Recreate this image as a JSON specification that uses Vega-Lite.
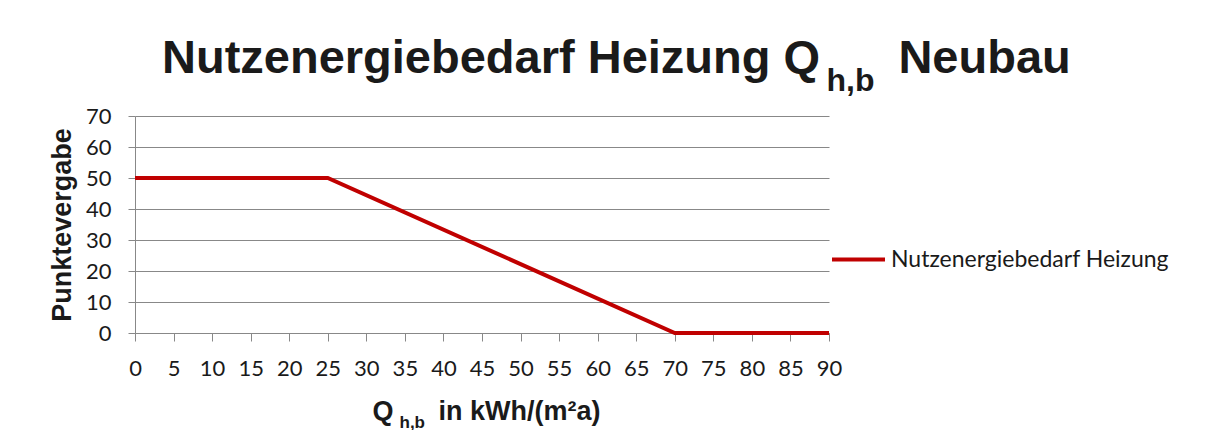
{
  "$schema": "https://vega.github.io/schema/vega-lite/v6.json",
  "width": 694,
  "height": 217,
  "autosize": "none",
  "padding": {"left": 135, "top": 116, "right": 380, "bottom": 97},
  "background": "white",
  "title": {
    "text": "Nutzenergiebedarf Heizung Q\u00a0\u00a0\u00a0\u00a0\u00a0\u00a0Neubau",
    "anchor": "start",
    "frame": "group",
    "dx": 27,
    "dy": 56,
    "font": "Liberation Sans",
    "fontSize": 47,
    "fontWeight": "bold",
    "color": "#1a1a1a",
    "baseline": "alphabetic",
    "offset": 0
  },
  "data": {
    "values": [
      {"q": 0, "punkte": 50, "serie": "Nutzenergiebedarf Heizung"},
      {"q": 25, "punkte": 50, "serie": "Nutzenergiebedarf Heizung"},
      {"q": 70, "punkte": 0, "serie": "Nutzenergiebedarf Heizung"},
      {"q": 90, "punkte": 0, "serie": "Nutzenergiebedarf Heizung"}
    ]
  },
  "layer": [
    {
      "mark": {"type": "line", "strokeWidth": 4, "clip": false, "strokeCap": "butt"},
      "encoding": {
        "x": {
          "field": "q",
          "type": "quantitative",
          "scale": {"domain": [0, 90], "nice": false},
          "axis": {
            "values": [0, 5, 10, 15, 20, 25, 30, 35, 40, 45, 50, 55, 60, 65, 70, 75, 80, 85, 90],
            "grid": false,
            "tickSize": 8,
            "labelPadding": 17,
            "labelFlush": false,
            "labelOverlap": false,
            "title": "Q\u00a0\u00a0\u00a0\u00a0\u00a0\u00a0in kWh/(m²a)",
            "titleX": 237,
            "titleY": 86,
            "titleAlign": "left",
            "titleBaseline": "alphabetic",
            "titleFontSize": 27
          }
        },
        "y": {
          "field": "punkte",
          "type": "quantitative",
          "scale": {"domain": [0, 70], "nice": false},
          "axis": {
            "values": [0, 10, 20, 30, 40, 50, 60, 70],
            "grid": true,
            "tickSize": 7,
            "labelPadding": 17,
            "labelFlush": false,
            "labelOverlap": false,
            "title": "Punktevergabe",
            "titleX": -64.5,
            "titleY": 108.5,
            "titleAngle": -90,
            "titleAlign": "center",
            "titleBaseline": "alphabetic",
            "titleFontSize": 27
          }
        },
        "color": {
          "field": "serie",
          "type": "nominal",
          "scale": {"range": ["#C00000"]},
          "legend": {
            "orient": "none",
            "legendX": 695,
            "legendY": 115,
            "title": null,
            "symbolType": "stroke",
            "symbolSize": 2809,
            "symbolStrokeWidth": 4,
            "labelFont": "Lato",
            "labelFontSize": 23,
            "labelColor": "#1a1a1a",
            "labelOffset": 4,
            "labelLimit": 500,
            "padding": 0
          }
        }
      }
    },
    {
      "mark": {"type": "point", "opacity": 0},
      "encoding": {
        "x": {
          "field": "q",
          "type": "quantitative",
          "axis": {
            "orient": "top",
            "labels": false,
            "ticks": false,
            "domain": false,
            "grid": false,
            "title": "h,b",
            "titleX": 691,
            "titleY": -26,
            "titleAlign": "left",
            "titleBaseline": "alphabetic",
            "titleFontSize": 32
          }
        }
      }
    },
    {
      "mark": {"type": "point", "opacity": 0},
      "encoding": {
        "x": {
          "field": "q",
          "type": "quantitative",
          "axis": {
            "orient": "bottom",
            "labels": false,
            "ticks": false,
            "domain": false,
            "grid": false,
            "title": "h,b",
            "titleX": 264,
            "titleY": 94,
            "titleAlign": "left",
            "titleBaseline": "alphabetic",
            "titleFontSize": 17
          }
        }
      }
    }
  ],
  "resolve": {"axis": {"x": "independent"}},
  "config": {
    "view": {"stroke": null},
    "axis": {
      "domainColor": "#888888",
      "domainWidth": 1,
      "tickColor": "#888888",
      "tickWidth": 1,
      "gridColor": "#888888",
      "gridWidth": 1,
      "labelFont": "Lato",
      "labelFontSize": 22,
      "labelColor": "#1a1a1a",
      "titleFont": "Liberation Sans",
      "titleFontWeight": "bold",
      "titleColor": "#1a1a1a"
    }
  }
}
